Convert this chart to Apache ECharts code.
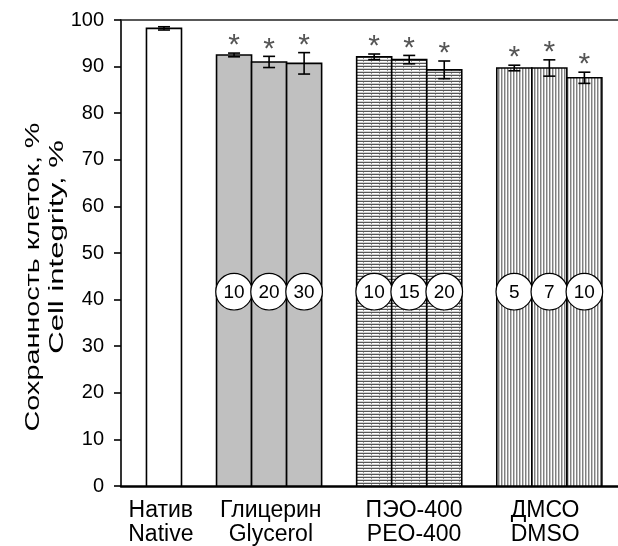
<!DOCTYPE html>
<html><head><meta charset="utf-8">
<script src="https://cdn.jsdelivr.net/npm/echarts@6/dist/echarts.min.js"></script>
<style>html,body{margin:0;padding:0;background:#fff}#c{width:618px;height:546px}</style>
</head><body><div id="c"></div>
<script>
// ---- data ----
const groupLabels = ['Натив\nNative', 'Глицерин\nGlycerol', 'ПЭО-400\nPEO-400', 'ДМСО\nDMSO'];
const groupLabelPos = [-0.09, 3.05, 7.14, 10.88];
const barPos = [0, 2, 3, 4, 6, 7, 8, 10, 11, 12];
const barGroup = [0, 1, 1, 1, 2, 2, 2, 3, 3, 3];
const barValues = [98.2, 92.5, 91.0, 90.7, 92.1, 91.5, 89.3, 89.7, 89.7, 87.6];
const errValues = [0.35, 0.4, 1.2, 2.3, 0.6, 0.9, 1.9, 0.6, 1.75, 1.2];
const doses = ['', '10', '20', '30', '10', '15', '20', '5', '7', '10'];
const significant = [0, 1, 1, 1, 1, 1, 1, 1, 1, 1];
const yTitleLines = ['Сохранность клеток, %', 'Cell integrity, %'];
const yMin = 0, yMax = 100, yStep = 10;
const doseMarkerLevel = 41.7;

// ---- patterns ----
function makeTile(w, h, draw) {
  const c = document.createElement('canvas');
  c.width = w; c.height = h;
  const ctx = c.getContext('2d');
  ctx.fillStyle = '#fff'; ctx.fillRect(0, 0, w, h);
  draw(ctx);
  return { image: c, repeat: 'repeat' };
}
const peoTile = makeTile(8, 3, ctx => {
  ctx.fillStyle = '#555'; ctx.fillRect(0, 0, 8, 1);
  ctx.fillStyle = '#d0d0d0'; ctx.fillRect(0, 2, 8, 1);
  ctx.fillStyle = '#999'; ctx.fillRect(3, 1, 1, 1);
});
const dmsoTile = makeTile(3, 4, ctx => {
  ctx.fillStyle = '#808080'; ctx.fillRect(0, 0, 1, 4);
  ctx.fillStyle = '#c4c4c4'; ctx.fillRect(1, 0, 1, 4);
});
const fills = ['#ffffff', '#c0c0c0', peoTile, dmsoTile];

const seriesData = barPos.map((p, i) => [p, barValues[i], errValues[i], barGroup[i], i]);

function renderItem(params, api) {
  const i = params.dataIndex;
  const x = api.value(0), v = api.value(1), e = api.value(2), g = api.value(3);
  const a = api.coord([x - 0.5, v]);
  const b = api.coord([x + 0.5, 0]);
  const children = [];
  children.push({
    type: 'rect',
    shape: { x: a[0], y: a[1], width: b[0] - a[0], height: b[1] - a[1] },
    style: { fill: fills[g], stroke: '#000', lineWidth: 1.6 }
  });
  const t = api.coord([x, v + e]), bt = api.coord([x, v - e]);
  const cap = 6;
  const es = { stroke: '#000', lineWidth: 1.6 };
  children.push({ type: 'line', shape: { x1: t[0], y1: t[1], x2: bt[0], y2: bt[1] }, style: es });
  children.push({ type: 'line', shape: { x1: t[0] - cap, y1: t[1], x2: t[0] + cap, y2: t[1] }, style: es });
  children.push({ type: 'line', shape: { x1: bt[0] - cap, y1: bt[1], x2: bt[0] + cap, y2: bt[1] }, style: es });
  if (significant[i]) {
    children.push({
      type: 'text',
      style: { text: '*', x: t[0], y: t[1] + 8, align: 'center', verticalAlign: 'bottom',
        fontSize: 30, fontFamily: 'Liberation Sans', fill: '#555' }
    });
  }
  if (doses[i]) {
    const c = api.coord([x, doseMarkerLevel]);
    children.push({ type: 'circle', shape: { cx: c[0], cy: c[1], r: 18.3 },
      style: { fill: '#fff', stroke: '#000', lineWidth: 1.2 } });
    children.push({ type: 'text', style: { text: doses[i], x: c[0], y: c[1] + 1, align: 'center',
      verticalAlign: 'middle', fontSize: 19, fontFamily: 'Liberation Sans', fill: '#000' } });
  }
  return { type: 'group', children };
}

const xMin = -1.227, xMax = 12.96;
const chart = echarts.init(document.getElementById('c'));
chart.setOption({
  animation: false,
  grid: { left: 121, right: 0, top: 20, bottom: 60, containLabel: false, outerBoundsMode: 'none' },
  graphic: [
    { type: 'text', x: 33, y: 277, rotation: Math.PI / 2, scaleX: 1.37,
      style: { text: yTitleLines[0], align: 'center', verticalAlign: 'middle',
        fontSize: 21, fontFamily: 'Liberation Sans', fill: '#000' } },
    { type: 'text', x: 57, y: 247, rotation: Math.PI / 2, scaleX: 1.48,
      style: { text: yTitleLines[1], align: 'center', verticalAlign: 'middle',
        fontSize: 21, fontFamily: 'Liberation Sans', fill: '#000' } }
  ],
  xAxis: [{
    type: 'value', min: xMin, max: xMax, position: 'bottom',
    axisLine: { show: true, onZero: false, lineStyle: { color: '#000', width: 2.5 } },
    axisTick: { show: false }, splitLine: { show: false },
    axisLabel: {
      customValues: groupLabelPos,
      formatter: v => groupLabels[groupLabelPos.indexOf(v)] || '',
      fontSize: 23, lineHeight: 24, color: '#000', fontFamily: 'Liberation Sans', margin: 13
    }
  }, {
    type: 'value', min: xMin, max: xMax, position: 'top',
    axisLine: { show: true, onZero: false, lineStyle: { color: '#222', width: 1.6 } },
    axisTick: { show: false }, axisLabel: { show: false }, splitLine: { show: false }
  }],
  yAxis: {
    type: 'value', min: yMin, max: yMax, interval: yStep, position: 'left',
    axisLine: { show: true, onZero: false, lineStyle: { color: '#000', width: 1.6 } },
    axisTick: { show: true, length: 7, lineStyle: { color: '#000', width: 1.6 } },
    splitLine: { show: false },
    axisLabel: { fontSize: 20, color: '#000', fontFamily: 'Liberation Sans', margin: 17 }
  },
  series: [{
    type: 'custom', xAxisIndex: 0, renderItem,
    data: seriesData, encode: { x: 0, y: 1 }, clip: false
  }]
});
</script></body></html>
